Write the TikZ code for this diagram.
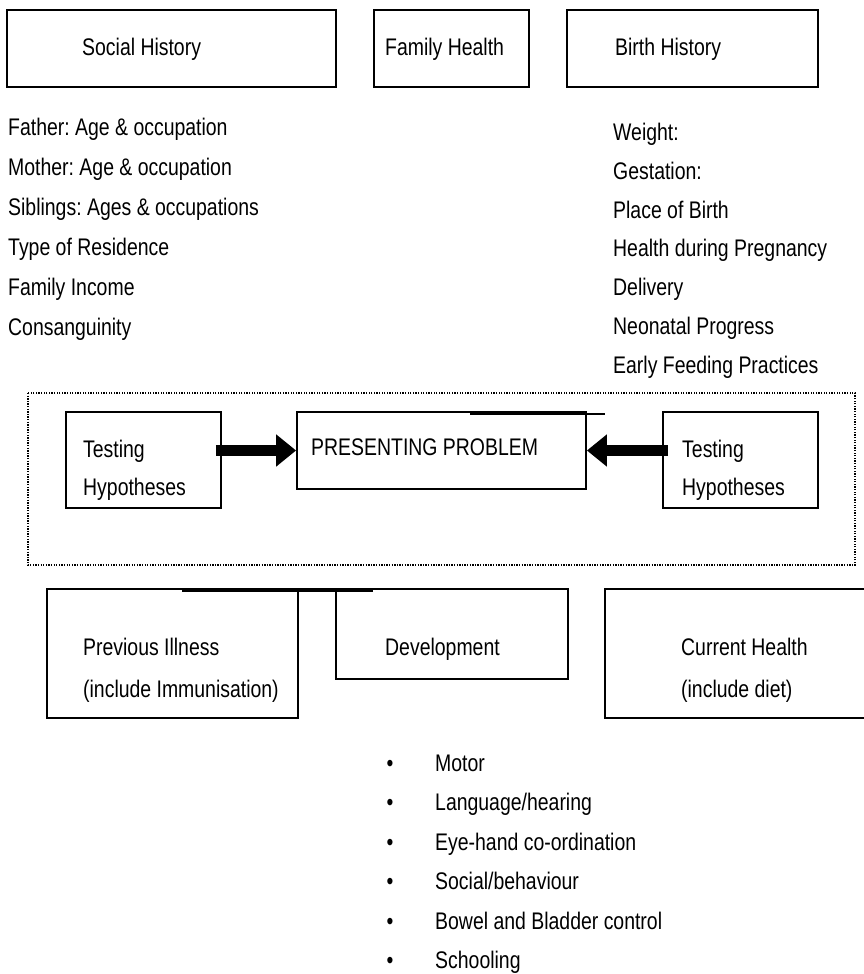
\documentclass[tikz,border=0pt]{standalone}
\usepackage{fontspec}
\setmainfont{Liberation Sans}[FakeStretch=0.81]
\usetikzlibrary{arrows.meta}
\frenchspacing
\begin{document}
\begin{tikzpicture}[x=1pt,y=-1pt,
		box/.style={draw,line width=1.8pt,inner sep=0pt},
		txt/.style={anchor=base west,inner sep=0pt,font=\fontsize{24pt}{28pt}\selectfont},
		bigarrow/.style={line width=11pt,-{Triangle[width=31pt,length=20pt]},shorten <=-6pt}]
	% 画布大小
	\useasboundingbox (0,0) rectangle (863,974);
	% 列表的行距
	\def\rowSoc{40}
	\def\rowBirth{38.8}
	\def\rowDev{39.4}

	% 上面三个框
	\node[box,minimum width=329pt,minimum height=77pt] (social) at (171.5,48.5) {};
	\node[box,minimum width=155pt,minimum height=77pt] (family) at (451.5,48.5) {};
	\node[box,minimum width=251pt,minimum height=77pt] (birth) at (692.5,48.5) {};
	\node[txt] (socialT) at (82,55.4) {Social History};
	\node[txt] (familyT) at (385,55.4) {Family Health};
	\node[txt] (birthT) at (615,55.4) {Birth History};

	% 左右两列
	\foreach \t [count=\i from 0] in {Father: Age \& occupation,Mother: Age \& occupation,Siblings: Ages \& occupations,Type of Residence,Family Income,Consanguinity}
		\node[txt] (sh\i) at (8,{135.4+\rowSoc*\i}) {\t};
	\foreach \t [count=\i from 0] in {Weight:,Gestation:,Place of Birth,Health during Pregnancy,Delivery,Neonatal Progress,Early Feeding Practices}
		\node[txt] (bh\i) at (613,{140.4+\rowBirth*\i}) {\t};

	% 虚线框
	\draw[line width=1.3pt,dash pattern=on 1.3pt off 1.3pt] (28,393) rectangle (855,565);

	% 中间三个框
	\node[box,minimum width=155pt,minimum height=96pt] (testL) at (143.5,460) {};
	\node[box,minimum width=289pt,minimum height=77pt] (problem) at (441.5,450.5) {};
	\node[box,minimum width=155pt,minimum height=96pt] (testR) at (740.5,460) {};
	\node[txt] (testLa) at (83,457.4) {Testing};
	\node[txt] (testLb) at (83,495.4) {Hypotheses};
	\node[txt] (problemT) at (311,455.4) {PRESENTING PROBLEM};
	\node[txt] (testRa) at (682,457.4) {Testing};
	\node[txt] (testRb) at (682,495.4) {Hypotheses};
	\draw[line width=2.5pt] (470,414) -- (586,414);
	\draw[line width=1.2pt] (586,414) -- (605,414);

	% 箭头
	\draw[bigarrow] (testL.east |- problem.west) -- (problem.west);
	\draw[bigarrow] (testR.west |- problem.east) -- (problem.east);

	% 下面三个框
	\node[box,minimum width=251pt,minimum height=129pt] (prev) at (172.5,653.5) {};
	\node[box,minimum width=232pt,minimum height=90pt] (devel) at (452,634) {};
	\node[box,minimum width=275pt,minimum height=129pt] (current) at (742.5,653.5) {};
	\draw[line width=1.2pt] (prev.north east) -- (devel.north west);
	\draw[line width=3pt] (182,590) -- (373,590);
	\node[txt] (prevA) at (83,655.4) {Previous Illness};
	\node[txt] (prevB) at (83,697.4) {(include Immunisation)};
	\node[txt] (develT) at (385,655.4) {Development};
	\node[txt] (currentA) at (681,655.4) {Current Health};
	\node[txt] (currentB) at (681,697.4) {(include diet)};

	% 发育项目
	\foreach \t [count=\i from 0] in {Motor,Language/hearing,Eye-hand co-ordination,Social/behaviour,Bowel and Bladder control,Schooling}{
		\node[txt,anchor=base] (dot\i) at (390,{771.4+\rowDev*\i}) {•};
		\node[txt] (dv\i) at (435,{771.4+\rowDev*\i}) {\t};
	}
\end{tikzpicture}
\end{document}
